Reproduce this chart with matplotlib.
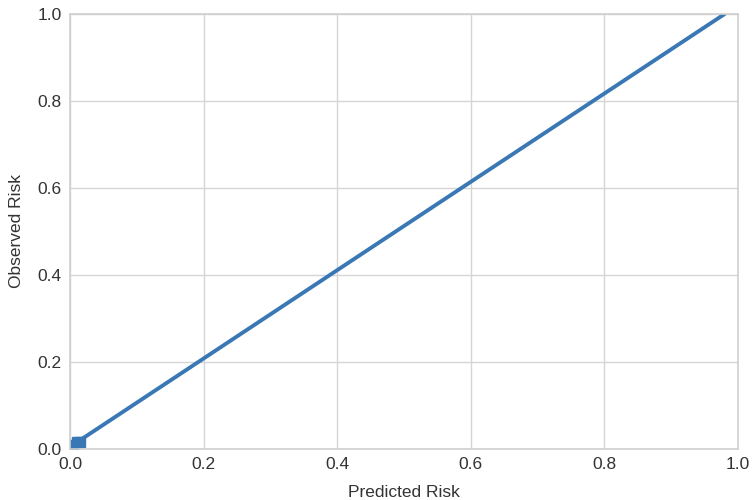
import matplotlib
matplotlib.use("Agg")
import matplotlib.pyplot as plt

plt.rcParams['font.family'] = ['Liberation Sans', 'DejaVu Sans']

# Data
pred = [0.005, 0.01, 0.015]
obs = [0.01, 0.015, 0.015]
line_x = [0.0, 0.98]
line_y = [0.005, 1.0]
ticks = [0.0, 0.2, 0.4, 0.6, 0.8, 1.0]

fig = plt.figure(figsize=(7.52, 5.0), dpi=100)
ax = fig.add_axes([70/752, 1-449/500, 668/752, 435/500])
ax.set_facecolor("white")
ax.grid(True, color="#d5d5d5", linewidth=1.0)
ax.set_axisbelow(True)
for s in ax.spines.values():
    s.set_color("#d0d0d0")
    s.set_linewidth(1.2)

ax.plot(line_x, line_y, color="#3a78b5", linewidth=2.8, solid_capstyle="round")
ax.plot(pred, obs, "s", color="#3a78b5", markersize=7)

ax.set_xlim(0, 1)
ax.set_ylim(0, 1)
ax.set_xticks(ticks)
ax.set_yticks(ticks)
ax.set_xticklabels([f"{t:.1f}" for t in ticks])
ax.set_yticklabels([f"{t:.1f}" for t in ticks])
ax.tick_params(length=0, labelsize=12.5, labelcolor="#333333", pad=6)
ax.set_xlabel("Predicted Risk", fontsize=12.5, color="#333333", labelpad=9)
ax.set_ylabel("Observed Risk", fontsize=12.5, color="#333333", labelpad=10)

fig.savefig("out.png", dpi=100)
